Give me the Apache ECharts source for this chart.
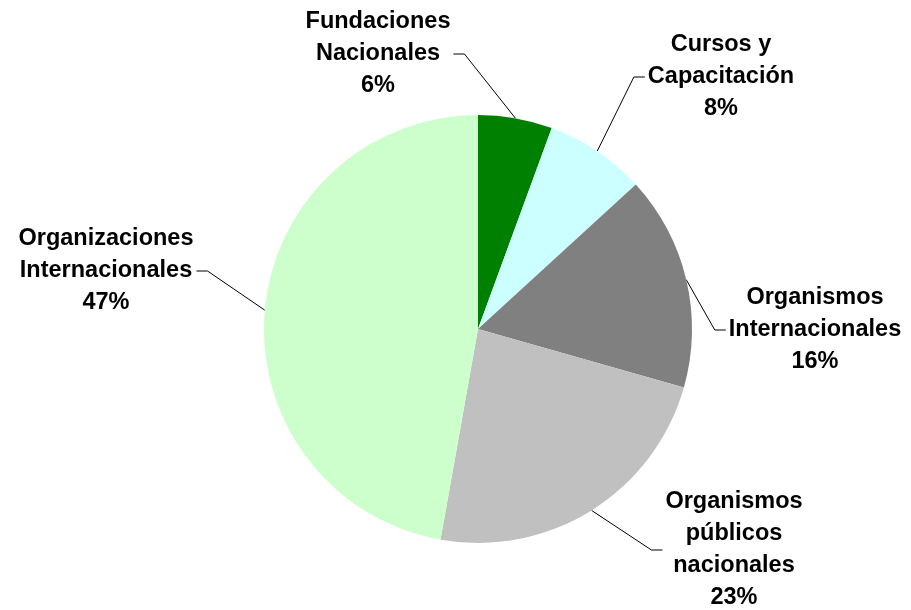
<!DOCTYPE html>
<html>
<head>
<meta charset="utf-8">
<style>
  html, body { margin: 0; padding: 0; background: #ffffff; }
  #chart { width: 911px; height: 610px; }
</style>
<script src="https://cdn.jsdelivr.net/npm/echarts@6/dist/echarts.min.js"></script>
</head>
<body>
<div id="chart"></div>
<script>
// ---- data ----
const categories = [
  'Fundaciones\nNacionales',
  'Cursos y\nCapacitación',
  'Organismos\nInternacionales',
  'Organismos\npúblicos\nnacionales',
  'Organizaciones\nInternacionales'
];
const shares = [5.6, 7.6, 16.2, 23.4, 47.2];

// ---- styling / layout (not data) ----
const sliceColors = ['#008000', '#CCFFFF', '#808080', '#C0C0C0', '#CCFFCC'];
const pieCenter = [478, 329];
const pieRadius = 214;
const labelCenters = [[378, 54], [721, 77], [815, 330], [734, 550], [106, 271]];
const labelGap = 3;
const bendLen = 11;

const chart = echarts.init(document.getElementById('chart'), null, { renderer: 'canvas' });

chart.setOption({
  backgroundColor: '#ffffff',
  animation: false,
  series: [{
    type: 'pie',
    center: pieCenter,
    radius: pieRadius,
    startAngle: 90,
    clockwise: true,
    avoidLabelOverlap: false,
    data: categories.map((name, i) => ({
      name: name,
      value: shares[i],
      itemStyle: { color: sliceColors[i] }
    })),
    itemStyle: { borderWidth: 0 },
    label: {
      show: true,
      position: 'outside',
      formatter: p => p.name + '\n' + Math.round(p.percent) + '%',
      fontFamily: '"Liberation Sans", Arial, sans-serif',
      fontWeight: 'bold',
      fontSize: 23.5,
      lineHeight: 32,
      color: '#000000',
      align: 'center'
    },
    labelLine: {
      show: true,
      length: 20,
      length2: 10,
      smooth: false,
      lineStyle: { color: '#000000', width: 1 }
    },
    labelLayout: function (params) {
      const i = params.dataIndex;
      const c = labelCenters[i];
      const w = params.labelRect.width;
      const onLeft = c[0] < pieCenter[0];
      const endX = onLeft ? c[0] + w / 2 + labelGap : c[0] - w / 2 - labelGap;
      const bendX = onLeft ? endX + bendLen : endX - bendLen;
      const pts = params.labelLinePoints;
      const start = pts && pts[0] ? pts[0] : [bendX, c[1]];
      return {
        x: c[0],
        y: c[1],
        align: 'center',
        verticalAlign: 'middle',
        labelLinePoints: [start, [bendX, c[1]], [endX, c[1]]]
      };
    },
    emphasis: { disabled: true }
  }]
});
</script>
</body>
</html>
